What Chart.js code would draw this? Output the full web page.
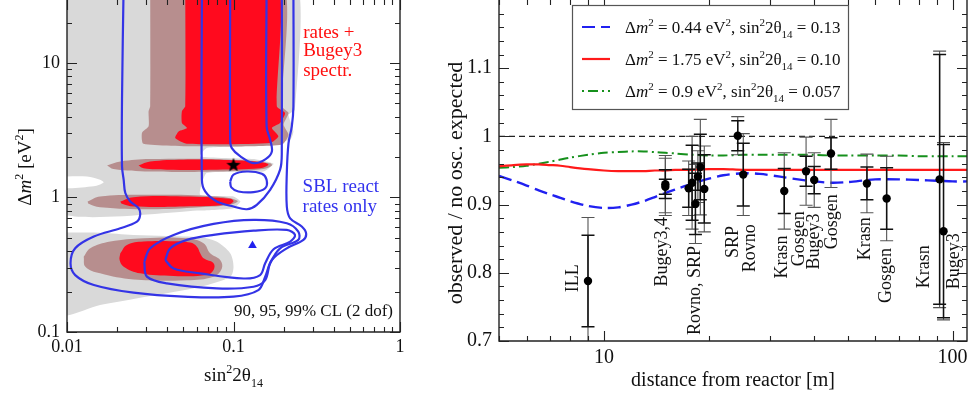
<!DOCTYPE html>
<html lang="en">
<head>
<meta charset="utf-8">
<script src="https://cdn.jsdelivr.net/npm/chart.js@4.4.1/dist/chart.umd.min.js"></script>
<style>
  html, body { margin: 0; padding: 0; background: #fff; }
  #wrap { position: relative; width: 976px; height: 394px; overflow: hidden; }
  #left { position: absolute; left: 0; top: 0; }
  #right { position: absolute; left: 430px; top: 0; }
</style>
</head>
<body>
<div id="wrap">
  <canvas id="left" width="430" height="394"></canvas>
  <canvas id="right" width="546" height="394"></canvas>
</div>
<script>
// ---------- left panel: allowed regions, [sin^2 2theta14, dm^2 (eV^2)] ----------
var grayUpper = [[0.009,40],[0.234,40],[0.234,4.5],[0.214,4.13],[0.229,3.10],[0.219,2.69],[0.11,2.40],[0.069,2.33],
  [0.063,2.02],[0.132,1.93],[0.174,1.78],[0.151,1.56],[0.069,1.52],[0.063,1.047],[0.1,1.017],[0.11,0.934],
  [0.1,0.833],[0.063,0.80],[0.009,0.786]];
var whiteStripe = [[0.009,1.43],[0.0132,1.43],[0.0158,1.354],[0.0166,1.29],[0.0145,1.21],[0.009,1.19]];
var grayLower = [[0.009,0.548],[0.0158,0.548],[0.0251,0.527],[0.0398,0.518],[0.063,0.506],[0.079,0.47],[0.0955,0.385],
  [0.1,0.306],[0.0955,0.258],[0.063,0.217],[0.0398,0.194],[0.0251,0.176],[0.0158,0.1585],[0.009,0.137]];

var rosy1 = [[0.0316,40],[0.195,40],[0.195,4.77],[0.214,4.25],[0.2,3.48],[0.214,2.93],[0.195,2.47],[0.063,2.40],
  [0.0288,2.51],[0.0282,3.02],[0.0309,3.38],[0.0309,4.38],[0.0316,4.77]];
var rosy2 = [[0.0174,1.73],[0.0209,1.85],[0.0316,1.93],[0.1,1.91],[0.166,1.80],[0.17,1.73],[0.151,1.63],[0.0794,1.56],
  [0.0316,1.56],[0.019,1.63]];
var rosy3 = [[0.0133,0.934],[0.0158,1.017],[0.0316,1.047],[0.0794,1.017],[0.1057,0.944],[0.0955,0.882],[0.063,0.847],
  [0.0316,0.818],[0.0158,0.847],[0.0135,0.897]];
var rosy4 = [[0.0126,0.363],[0.0138,0.419],[0.0182,0.47],[0.0288,0.498],[0.0525,0.498],[0.0661,0.457],[0.0724,0.385],
  [0.0832,0.343],[0.0851,0.297],[0.0759,0.258],[0.0525,0.243],[0.0251,0.246],[0.0158,0.273],[0.0129,0.306]];

var red1 = [[0.0513,40],[0.182,40],[0.182,4.77],[0.204,4.25],[0.1905,3.58],[0.17,3.29],[0.186,2.85],[0.166,2.54],
  [0.0525,2.51],[0.0447,2.77],[0.0468,3.10],[0.0525,3.29],[0.049,3.58],[0.049,4.38],[0.0513,4.77]];
var red2 = [[0.0269,1.73],[0.0316,1.85],[0.0501,1.91],[0.1,1.89],[0.151,1.82],[0.162,1.75],[0.1445,1.65],[0.0794,1.61],
  [0.0398,1.61],[0.0288,1.65]];
var red3 = [[0.0209,0.934],[0.0251,1.006],[0.0501,1.017],[0.0955,0.977],[0.1,0.934],[0.0912,0.882],[0.0501,0.857],
  [0.0251,0.857],[0.0214,0.897]];
var red4 = [[0.0209,0.385],[0.0229,0.444],[0.0288,0.47],[0.0437,0.473],[0.055,0.462],[0.0603,0.431],[0.0631,0.385],
  [0.0661,0.353],[0.0759,0.324],[0.0759,0.289],[0.0692,0.265],[0.0437,0.261],[0.0275,0.273],[0.0219,0.306],[0.0207,0.343]];

// SBL reactor rates only: 90, 95, 99% CL contours
var cl99 = [[0.0219,40],[0.0214,5.35],[0.0214,1.70],[0.0219,1.354],[0.0224,1.08],[0.024,0.934],[0.0269,0.833],
  [0.0275,0.743],[0.0263,0.662],[0.0209,0.59],[0.0145,0.512],[0.0112,0.419],[0.0105,0.324],[0.0112,0.265],
  [0.0145,0.2235],[0.0251,0.196],[0.0501,0.183],[0.1,0.183],[0.141,0.205],[0.155,0.258],[0.17,0.343],[0.209,0.419],
  [0.263,0.484],[0.273,0.542],[0.257,0.608],[0.219,0.70],[0.209,0.857],[0.209,1.52],[0.214,2.54],[0.224,3.38],
  [0.229,4.77],[0.229,40]];
var cl95a = [[0.0646,40],[0.0646,1.354],[0.0676,1.109],[0.0794,0.934],[0.1,0.857],[0.1202,0.818],[0.138,0.882],
  [0.166,1.14],[0.1905,1.61],[0.195,2.14],[0.195,40]];
var cl95b = [[0.0291,0.333],[0.0316,0.419],[0.0437,0.527],[0.0759,0.636],[0.132,0.682],[0.209,0.644],[0.245,0.558],
  [0.245,0.484],[0.1905,0.419],[0.166,0.324],[0.155,0.243],[0.132,0.217],[0.0794,0.211],[0.0398,0.23],[0.0302,0.258]];
var cl90a = [[0.0955,40],[0.0955,2.69],[0.0977,2.33],[0.11,2.02],[0.132,1.80],[0.156,1.93],[0.17,2.2],[0.166,2.69],
  [0.158,3.38],[0.158,40]];
var cl90b = [[0.0955,1.316],[0.1,1.48],[0.1202,1.56],[0.148,1.50],[0.158,1.354],[0.155,1.17],[0.132,1.096],
  [0.107,1.109],[0.097,1.19]];
var cl90c = [[0.0389,0.343],[0.0417,0.419],[0.0525,0.484],[0.0759,0.527],[0.132,0.567],[0.209,0.574],[0.234,0.527],
  [0.219,0.47],[0.174,0.412],[0.155,0.324],[0.1445,0.265],[0.115,0.25],[0.063,0.273],[0.0437,0.297]];

var bestFitAll = [0.10, 1.75];
var bestFitRates = [0.13, 0.44];

var leftNoteText = ['rates +', 'Bugey3', 'spectr.', 'SBL react', 'rates only', '90, 95, 99% CL (2 dof)'];
var leftNoteX = [0.262, 0.262, 0.262, 0.26, 0.26, 0.908];
var leftNoteY = [16.6, 12.2, 8.65, 1.187, 0.843, 0.142];

// ---------- right panel: reactor data ----------
var expName = ['ILL', 'Bugey4', 'Bugey3', 'Rovno91', 'Rovno88', 'Rovno88', 'SRP', 'Rovno88', 'Rovno88', 'SRP', 'Rovno88',
  'Krasn', 'Gosgen', 'Bugey3', 'Gosgen', 'Krasn', 'Gosgen', 'Krasn', 'Bugey3'];
var distance = [9.0, 15.0, 15.0, 17.5, 17.9, 18.3, 18.6, 18.9, 19.4, 24.2, 25.1, 32.9, 38.0, 40.1, 44.8, 56.8, 64.7, 91.8, 94.2];
var ratio = [0.788, 0.926, 0.930, 0.924, 0.932, 0.901, 0.941, 0.955, 0.923, 1.001, 0.944, 0.920, 0.949, 0.936, 0.975, 0.931, 0.909, 0.937, 0.861];
var errInner = [0.067, 0.011, 0.021, 0.028, 0.055, 0.045, 0.020, 0.048, 0.050, 0.022, 0.046, 0.033, 0.022, 0.020, 0.023, 0.024, 0.045, 0.183, 0.127];
var errOuter = [0.093, 0.042, 0.042, 0.040, 0.068, 0.058, 0.038, 0.070, 0.063, 0.028, 0.060, 0.056, 0.050, 0.040, 0.050, 0.043, 0.062, 0.188, 0.130];

var tagText = ['ILL', 'Bugey3,4', 'Rovno, SRP', 'SRP', 'Rovno', 'Krasn', 'Gosgen', 'Bugey3', 'Gosgen', 'Krasn', 'Gosgen', 'Krasn', 'Bugey3'];
var tagDist = [8.15, 14.74, 18.3, 23.5, 26.3, 32.4, 36.3, 40.1, 45.1, 56.1, 64.7, 83.2, 101.4];
var tagRatio = [0.792, 0.831, 0.774, 0.845, 0.836, 0.823, 0.850, 0.846, 0.875, 0.850, 0.796, 0.809, 0.817];

// oscillation curves
var curveDist = [5, 5.5, 6, 6.5, 7, 7.5, 8, 9, 10, 11, 12, 13, 14, 15, 16, 18, 20, 22, 25, 28, 32, 36, 40, 45, 50, 60, 70, 80, 90, 100, 110];
var curveBlue = [0.942, 0.935, 0.928, 0.921, 0.915, 0.910, 0.905, 0.898, 0.895, 0.896, 0.900, 0.905, 0.911, 0.917, 0.922, 0.931,
  0.938, 0.943, 0.946, 0.945, 0.941, 0.937, 0.934, 0.932, 0.933, 0.937, 0.937, 0.936, 0.935, 0.934, 0.934];
var curveRed = [0.956, 0.958, 0.959, 0.959, 0.958, 0.957, 0.955, 0.952, 0.950, 0.949, 0.949, 0.949, 0.950, 0.950, 0.951, 0.951,
  0.952, 0.952, 0.951, 0.951, 0.951, 0.951, 0.951, 0.951, 0.951, 0.951, 0.951, 0.951, 0.951, 0.951, 0.951];
var curveGreen = [0.954, 0.955, 0.957, 0.960, 0.963, 0.966, 0.969, 0.973, 0.976, 0.977, 0.978, 0.978, 0.977, 0.976, 0.975, 0.973,
  0.972, 0.972, 0.973, 0.973, 0.973, 0.973, 0.973, 0.972, 0.972, 0.972, 0.972, 0.971, 0.971, 0.971, 0.971];

var SERIF = '"Liberation Serif", "Times New Roman", serif';
var RED = '#ff0a1e', ROSY = '#b78e8e', GRAY = '#d9d9d9', CBLUE = '#3434e6';

Chart.defaults.font.family = SERIF;
Chart.defaults.color = '#111';

function pts(arr) { return arr.map(function (p) { return { x: p[0], y: p[1] }; }); }
function closed(arr) { return pts(arr.concat([arr[0]])); }

function partFont(p, size) {
  if (p[1] === 'sup' || p[1] === 'sub') return Math.round(size * 0.62) + 'px ' + SERIF;
  if (p[1] === 'i') return 'italic ' + size + 'px ' + SERIF;
  return size + 'px ' + SERIF;
}
function richWidth(ctx, parts, size) {
  var w = 0;
  parts.forEach(function (p) { ctx.font = partFont(p, size); w += ctx.measureText(p[0]).width; });
  return w;
}
function drawRich(ctx, parts, x, y, size, align, color) {
  var w = richWidth(ctx, parts, size);
  var cx = align === 'center' ? x - w / 2 : (align === 'right' ? x - w : x);
  ctx.fillStyle = color;
  ctx.textAlign = 'left';
  ctx.textBaseline = 'alphabetic';
  parts.forEach(function (p) {
    ctx.font = partFont(p, size);
    var dy = p[1] === 'sup' ? -size * 0.42 : (p[1] === 'sub' ? size * 0.3 : 0);
    ctx.fillText(p[0], cx, y + dy);
    cx += ctx.measureText(p[0]).width;
  });
}

// border on left/bottom/right plus inward ticks on all four sides
function framePlugin(xMajor, xMinor, yMajor, yMinor) {
  return {
    id: 'frame',
    afterDatasetsDraw: function (chart) {
      var ctx = chart.ctx, a = chart.chartArea, xs = chart.scales.x, ys = chart.scales.y;
      ctx.save();
      ctx.strokeStyle = '#222';
      ctx.lineWidth = 1.4;
      ctx.beginPath();
      ctx.moveTo(a.left, a.top); ctx.lineTo(a.left, a.bottom); ctx.lineTo(a.right, a.bottom); ctx.lineTo(a.right, a.top);
      ctx.stroke();
      ctx.lineWidth = 1.1;
      ctx.beginPath();
      function xt(v, len) {
        var p = Math.round(xs.getPixelForValue(v)) + 0.5;
        ctx.moveTo(p, a.bottom); ctx.lineTo(p, a.bottom - len);
        ctx.moveTo(p, a.top); ctx.lineTo(p, a.top + len);
      }
      function yt(v, len) {
        var p = Math.round(ys.getPixelForValue(v)) + 0.5;
        ctx.moveTo(a.left, p); ctx.lineTo(a.left + len, p);
        ctx.moveTo(a.right, p); ctx.lineTo(a.right - len, p);
      }
      xMajor.forEach(function (v) { xt(v, 10); });
      xMinor.forEach(function (v) { xt(v, 5); });
      yMajor.forEach(function (v) { yt(v, 10); });
      yMinor.forEach(function (v) { yt(v, 5); });
      ctx.stroke();
      ctx.restore();
    }
  };
}

function fixTicks(vals) {
  return function (axis) { axis.ticks = vals.map(function (v) { return { value: v }; }); };
}
function pinWidth(w) {
  return function (s) { s.width = w; s.paddingTop = 0; s.paddingBottom = 0; };
}
function pinHeight(h) {
  return function (s) { s.height = h; s.paddingLeft = 0; s.paddingRight = 0; };
}

// ---------------- left chart ----------------
var starImg = document.createElement('canvas');
starImg.width = 16; starImg.height = 16;
(function () {
  var c = starImg.getContext('2d');
  c.fillStyle = '#000';
  c.beginPath();
  for (var k = 0; k < 10; k++) {
    var r = k % 2 === 0 ? 7.5 : 3.1;
    var ang = -Math.PI / 2 + k * Math.PI / 5;
    c.lineTo(8 + r * Math.cos(ang), 8.5 + r * Math.sin(ang));
  }
  c.closePath();
  c.fill();
})();

function region(arr, color, tension) {
  return { data: closed(arr), fill: 'shape', backgroundColor: color, borderColor: 'rgba(0,0,0,0)', borderWidth: 0,
    pointRadius: 0, tension: tension };
}
function contour(arr, isClosed) {
  return { data: isClosed ? closed(arr) : pts(arr), fill: false, borderColor: CBLUE, borderWidth: 2.2,
    pointRadius: 0, tension: 0.35 };
}

var leftSets = [
  region(grayUpper, GRAY, 0.15), region(grayLower, GRAY, 0.3), region(whiteStripe, '#ffffff', 0.3),
  region(rosy1, ROSY, 0.2), region(rosy2, ROSY, 0.4), region(rosy3, ROSY, 0.4), region(rosy4, ROSY, 0.4),
  region(red1, RED, 0.2), region(red2, RED, 0.4), region(red3, RED, 0.4), region(red4, RED, 0.4),
  contour(cl99, false), contour(cl95a, false), contour(cl95b, true),
  contour(cl90a, false), contour(cl90b, true), contour(cl90c, true),
  { data: pts([bestFitAll]), showLine: false, pointStyle: starImg, pointRadius: 8 },
  { data: pts([bestFitRates]), showLine: false, pointStyle: 'triangle', pointRadius: 5,
    pointBackgroundColor: '#2222ee', pointBorderColor: '#2222ee', pointBorderWidth: 0 }
];
leftSets.forEach(function (d, i) { d.order = leftSets.length - i; });

new Chart(document.getElementById('left'), {
  type: 'line',
  data: { datasets: leftSets },
  options: {
    responsive: false, animation: false, devicePixelRatio: 1, events: [],
    layout: { autoPadding: false, padding: { left: 0, right: 30, top: 0, bottom: 0 } },
    elements: { line: { capBezierPoints: false } },
    plugins: { legend: { display: false }, tooltip: { enabled: false } },
    scales: {
      x: {
        type: 'logarithmic', min: 0.01, max: 1,
        grid: { display: false, drawTicks: false }, border: { display: false },
        afterBuildTicks: fixTicks([0.01, 0.1, 1]),
        afterFit: pinHeight(62),
        ticks: { autoSkip: false, maxRotation: 0, padding: 4, font: { size: 18 }, color: '#111',
          callback: function (v) { return String(v); } }
      },
      y: {
        type: 'logarithmic', min: 0.1, max: 29.4,
        grid: { display: false, drawTicks: false }, border: { display: false },
        afterBuildTicks: fixTicks([0.1, 1, 10]),
        afterFit: pinWidth(67),
        ticks: { autoSkip: false, padding: 7, font: { size: 18 }, color: '#111',
          callback: function (v) { return String(v); } }
      }
    }
  },
  plugins: [
    framePlugin([0.01, 0.1, 1], [0.02, 0.03, 0.04, 0.05, 0.06, 0.07, 0.08, 0.09, 0.2, 0.3, 0.4, 0.5, 0.6, 0.7, 0.8, 0.9],
      [0.1, 1, 10], [0.2, 0.3, 0.4, 0.5, 0.6, 0.7, 0.8, 0.9, 2, 3, 4, 5, 6, 7, 8, 9, 20]),
    {
      id: 'leftText',
      afterDraw: function (chart) {
        var ctx = chart.ctx, xs = chart.scales.x, ys = chart.scales.y, a = chart.chartArea;
        ctx.save();
        ctx.textBaseline = 'middle';
        leftNoteText.forEach(function (t, i) {
          var last = i === leftNoteText.length - 1;
          ctx.font = (last ? 17 : 19) + 'px ' + SERIF;
          ctx.fillStyle = i < 3 ? '#ff1010' : (i < 5 ? '#3333ee' : '#111');
          ctx.textAlign = last ? 'right' : 'left';
          ctx.fillText(t, xs.getPixelForValue(leftNoteX[i]), ys.getPixelForValue(leftNoteY[i]));
        });
        drawRich(ctx, [['sin', 'n'], ['2', 'sup'], ['2θ', 'n'], ['14', 'sub']], (a.left + a.right) / 2, 381, 19, 'center', '#111');
        ctx.translate(31, 167);
        ctx.rotate(-Math.PI / 2);
        drawRich(ctx, [['Δ', 'n'], ['m', 'i'], ['2', 'sup'], [' [eV', 'n'], ['2', 'sup'], [']', 'n']], 0, 0, 19, 'center', '#111');
        ctx.restore();
      }
    }
  ]
});

// ---------------- right chart ----------------
function curve(vals, color, dash, width) {
  return { data: curveDist.map(function (d, i) { return { x: d, y: vals[i] }; }), borderColor: color, borderWidth: width,
    borderDash: dash, pointRadius: 0, fill: false, tension: 0.3 };
}
var rightSets = [
  { data: distance.map(function (d, i) { return { x: d, y: ratio[i] }; }), showLine: false, pointRadius: 4.2,
    pointBackgroundColor: '#000', pointBorderColor: '#000', pointBorderWidth: 0, order: 0 },
  Object.assign(curve(curveBlue, '#2020f0', [13, 6], 2.4), { order: 1 }),
  Object.assign(curve(curveRed, '#ff1a1a', [], 2.2), { order: 2 }),
  Object.assign(curve(curveGreen, '#16901c', [10, 4, 2, 4], 2), { order: 3 }),
  { data: [{ x: 5, y: 1 }, { x: 110, y: 1 }], borderColor: '#222', borderWidth: 1.1, borderDash: [6, 4],
    pointRadius: 0, fill: false, order: 4 }
];

var legendItems = [
  { color: '#2020f0', dash: [13, 6], off: 0, parts: [['Δ', 'n'], ['m', 'i'], ['2', 'sup'], [' = 0.44 eV', 'n'], ['2', 'sup'], [', sin', 'n'], ['2', 'sup'], ['2θ', 'n'], ['14', 'sub'], [' = 0.13', 'n']] },
  { color: '#ff1a1a', dash: [], off: 0, parts: [['Δ', 'n'], ['m', 'i'], ['2', 'sup'], [' = 1.75 eV', 'n'], ['2', 'sup'], [', sin', 'n'], ['2', 'sup'], ['2θ', 'n'], ['14', 'sub'], [' = 0.10', 'n']] },
  { color: '#16901c', dash: [10, 4, 2, 4], off: 14, parts: [['Δ', 'n'], ['m', 'i'], ['2', 'sup'], [' = 0.9 eV', 'n'], ['2', 'sup'], [', sin', 'n'], ['2', 'sup'], ['2θ', 'n'], ['14', 'sub'], [' = 0.057', 'n']] }
];

new Chart(document.getElementById('right'), {
  type: 'line',
  data: { datasets: rightSets },
  options: {
    responsive: false, animation: false, devicePixelRatio: 1, events: [],
    layout: { autoPadding: false, padding: { left: 0, right: 9, top: 0, bottom: 0 } },
    plugins: { legend: { display: false }, tooltip: { enabled: false } },
    scales: {
      x: {
        type: 'logarithmic', min: 5, max: 110,
        grid: { display: false, drawTicks: false }, border: { display: false },
        afterBuildTicks: fixTicks([10, 100]),
        afterFit: pinHeight(53),
        ticks: { autoSkip: false, maxRotation: 0, padding: 5, font: { size: 20 }, color: '#111',
          callback: function (v) { return String(v); } }
      },
      y: {
        type: 'linear', min: 0.7, max: 1.2,
        grid: { display: false, drawTicks: false }, border: { display: false },
        afterBuildTicks: fixTicks([0.7, 0.8, 0.9, 1.0, 1.1]),
        afterFit: pinWidth(69),
        ticks: { autoSkip: false, padding: 7, font: { size: 20 }, color: '#111',
          callback: function (v) { return String(Math.round(v * 10) / 10); } }
      }
    }
  },
  plugins: [
    {
      id: 'errorBars',
      beforeDatasetDraw: function (chart, args) {
        if (args.index !== 0) return;
        var ctx = chart.ctx, xs = chart.scales.x, ys = chart.scales.y, a = chart.chartArea;
        ctx.save();
        ctx.beginPath();
        ctx.rect(a.left, a.top, a.right - a.left, a.bottom - a.top);
        ctx.clip();
        function bar(i, e, color, lw) {
          var px = xs.getPixelForValue(distance[i]);
          var top = ys.getPixelForValue(ratio[i] + e), bot = ys.getPixelForValue(ratio[i] - e);
          ctx.strokeStyle = color; ctx.lineWidth = lw;
          ctx.beginPath();
          ctx.moveTo(px, top); ctx.lineTo(px, bot);
          ctx.moveTo(px - 6.5, top); ctx.lineTo(px + 6.5, top);
          ctx.moveTo(px - 6.5, bot); ctx.lineTo(px + 6.5, bot);
          ctx.stroke();
        }
        distance.forEach(function (d, i) { bar(i, errOuter[i], '#555', 1.1); });
        distance.forEach(function (d, i) { bar(i, errInner[i], '#111', 1.5); });
        ctx.restore();
      }
    },
    framePlugin([10, 100], [5, 6, 7, 8, 9, 20, 30, 40, 50, 60, 70, 80, 90],
      [0.7, 0.8, 0.9, 1.0, 1.1],
      [0.72, 0.74, 0.76, 0.78, 0.82, 0.84, 0.86, 0.88, 0.92, 0.94, 0.96, 0.98, 1.02, 1.04, 1.06, 1.08, 1.12, 1.14, 1.16, 1.18]),
    {
      id: 'rightText',
      afterDraw: function (chart) {
        var ctx = chart.ctx, xs = chart.scales.x, ys = chart.scales.y, a = chart.chartArea;
        ctx.save();
        // experiment tags
        ctx.font = '18px ' + SERIF;
        ctx.fillStyle = '#111';
        ctx.textAlign = 'center';
        ctx.textBaseline = 'middle';
        tagText.forEach(function (t, i) {
          ctx.save();
          ctx.translate(xs.getPixelForValue(tagDist[i]), ys.getPixelForValue(tagRatio[i]));
          ctx.rotate(-Math.PI / 2);
          ctx.fillText(t, 0, 0);
          ctx.restore();
        });
        // legend box
        var bx = 142, by = 5, bw = 276, bh = 104;
        ctx.fillStyle = '#fff';
        ctx.fillRect(bx, by, bw, bh);
        ctx.strokeStyle = '#555';
        ctx.lineWidth = 1.2;
        ctx.strokeRect(bx + 0.5, by + 0.5, bw, bh);
        legendItems.forEach(function (it, i) {
          var yy = 27 + i * 32;
          ctx.save();
          ctx.strokeStyle = it.color;
          ctx.lineWidth = 2.2;
          ctx.setLineDash(it.dash);
          ctx.lineDashOffset = it.off;
          ctx.beginPath();
          ctx.moveTo(152, yy); ctx.lineTo(180, yy);
          ctx.stroke();
          ctx.restore();
          drawRich(ctx, it.parts, 195, yy + 6, 17, 'left', '#111');
        });
        // axis titles
        ctx.font = '20px ' + SERIF;
        ctx.fillStyle = '#111';
        ctx.textAlign = 'center';
        ctx.textBaseline = 'alphabetic';
        ctx.fillText('distance from reactor [m]', (a.left + a.right) / 2, 386);
        ctx.translate(32, 183);
        ctx.rotate(-Math.PI / 2);
        ctx.font = '22px ' + SERIF;
        ctx.fillText('observed / no osc. expected', 0, 0);
        ctx.restore();
      }
    }
  ]
});
</script>
</body>
</html>
